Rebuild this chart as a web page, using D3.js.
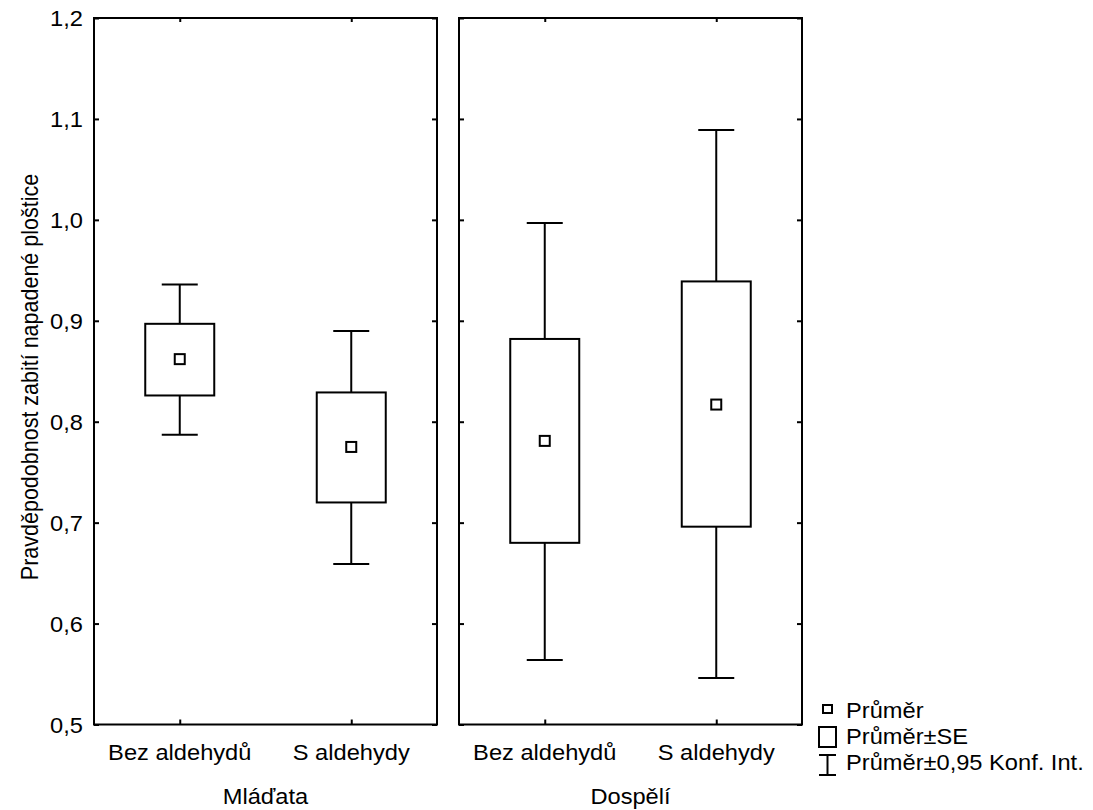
<!DOCTYPE html>
<html>
<head>
<meta charset="utf-8">
<script src="https://cdn.jsdelivr.net/npm/d3@7"></script>
<style>
  body { margin: 0; background: #fff; }
  text { font-family: "Liberation Sans", Arial, sans-serif; fill: #000; }
</style>
</head>
<body>
<svg id="chart" width="1093" height="810"></svg>
<script>
// data
const groups = ["Mláďata", "Dospělí"];
const categories = ["Bez aldehydů", "S aldehydy"];
const means  = [0.862, 0.775, 0.781, 0.817];
const seLow  = [0.826, 0.720, 0.680, 0.696];
const seHigh = [0.897, 0.829, 0.882, 0.939];
const ciLow  = [0.787, 0.659, 0.564, 0.546];
const ciHigh = [0.936, 0.890, 0.997, 1.089];
const yTicks = [0.5, 0.6, 0.7, 0.8, 0.9, 1.0, 1.1, 1.2];
const legendLabels = ["Průměr", "Průměr±SE", "Průměr±0,95 Konf. Int."];

// layout
const plotTop = 18, plotBottom = 724.5;
const panelX = [94, 459];
const panelW = 343;
const stretch = 1.1;  // text looks a bit wide in the original
const fs = 21.5;

const svg = d3.select("#chart");

let y = d3.scaleLinear().domain([0.5, 1.2]).range([plotBottom, plotTop]);
let fmt = d => d3.format(".1f")(d).replace(".", ",");

let x = d3.scalePoint().domain(categories).range([0, panelW]).padding(0.5);

groups.forEach(function (g, gi) {
    let p = svg.append("g").attr("transform", "translate(" + panelX[gi] + ",0)");

    // frame
    p.append("rect")
        .attr("x", 0).attr("y", plotTop)
        .attr("width", panelW).attr("height", plotBottom - plotTop)
        .attr("fill", "none").attr("stroke", "#000").attr("stroke-width", 2);

    // inward ticks on all sides
    let left = p.append("g").call(d3.axisLeft(y).tickValues(yTicks).tickSize(-5).tickFormat(""));
    let right = p.append("g").attr("transform", "translate(" + panelW + ",0)")
        .call(d3.axisRight(y).tickValues(yTicks).tickSize(-5).tickFormat(""));
    let bot = p.append("g").attr("transform", "translate(0," + plotBottom + ")")
        .call(d3.axisBottom(x).tickSize(-5).tickFormat(""));
    let tp = p.append("g").attr("transform", "translate(0," + plotTop + ")")
        .call(d3.axisTop(x).tickSize(-4).tickFormat(""));
    [left, right, bot, tp].forEach(a => {
        a.select(".domain").remove();
        a.selectAll("line").attr("stroke", "#000").attr("stroke-width", 2);
    });

    // y tick labels only on the first panel
    if (gi === 0) {
        p.selectAll(".ylab").data(yTicks).enter()
            .append("text")
            .attr("class", "ylab")
            .attr("transform", d => "translate(-11," + (y(d) + 8) + ") scale(" + stretch + ",1)")
            .attr("text-anchor", "end")
            .style("font-size", fs + "px")
            .text(fmt);
    }

    // category labels
    p.selectAll(".xlab").data(categories).enter()
        .append("text")
        .attr("class", "xlab")
        .attr("transform", d => "translate(" + x(d) + ",760) scale(" + stretch + ",1)")
        .attr("text-anchor", "middle")
        .style("font-size", fs + "px")
        .text(d => d);

    // group label
    p.append("text")
        .attr("transform", "translate(" + panelW / 2 + ",804) scale(" + stretch + ",1)")
        .attr("text-anchor", "middle")
        .style("font-size", fs + "px")
        .text(g);

    // boxes
    categories.forEach(function (c, ci) {
        let i = gi * 2 + ci;
        let cx = x(c);
        let bw = 69, cw = 36;
        let m = p.append("g").attr("stroke", "#000").attr("stroke-width", 2).attr("fill", "none");
        m.append("line").attr("x1", cx).attr("x2", cx).attr("y1", y(ciHigh[i])).attr("y2", y(seHigh[i]));
        m.append("line").attr("x1", cx).attr("x2", cx).attr("y1", y(seLow[i])).attr("y2", y(ciLow[i]));
        m.append("line").attr("x1", cx - cw / 2).attr("x2", cx + cw / 2).attr("y1", y(ciHigh[i])).attr("y2", y(ciHigh[i]));
        m.append("line").attr("x1", cx - cw / 2).attr("x2", cx + cw / 2).attr("y1", y(ciLow[i])).attr("y2", y(ciLow[i]));
        m.append("rect")
            .attr("x", cx - bw / 2).attr("width", bw)
            .attr("y", y(seHigh[i])).attr("height", y(seLow[i]) - y(seHigh[i]))
            .attr("fill", "#fff");
        m.append("rect")
            .attr("x", cx - 5).attr("y", y(means[i]) - 5)
            .attr("width", 10).attr("height", 10)
            .attr("fill", "#fff");
    });
});

// y axis title
svg.append("text")
    .attr("transform", "translate(38,377) rotate(-90) scale(1," + stretch + ")")
    .attr("text-anchor", "middle")
    .style("font-size", fs + "px")
    .text("Pravděpodobnost zabití napadené ploštice");

// legend
let lg = svg.append("g").attr("stroke", "#000").attr("stroke-width", 2).attr("fill", "none");
lg.append("rect").attr("x", 823).attr("y", 705).attr("width", 9).attr("height", 8);
lg.append("rect").attr("x", 819).attr("y", 727).attr("width", 17).attr("height", 20);
lg.append("line").attr("x1", 819).attr("x2", 836).attr("y1", 755).attr("y2", 755);
lg.append("line").attr("x1", 819).attr("x2", 836).attr("y1", 775).attr("y2", 775);
lg.append("line").attr("x1", 827.5).attr("x2", 827.5).attr("y1", 755).attr("y2", 775);

svg.selectAll(".leg").data(legendLabels).enter()
    .append("text")
    .attr("class", "leg")
    .attr("transform", (d, i) => "translate(846," + (718 + i * 26) + ") scale(" + stretch + ",1)")
    .style("font-size", fs + "px")
    .text(d => d);
</script>
</body>
</html>
